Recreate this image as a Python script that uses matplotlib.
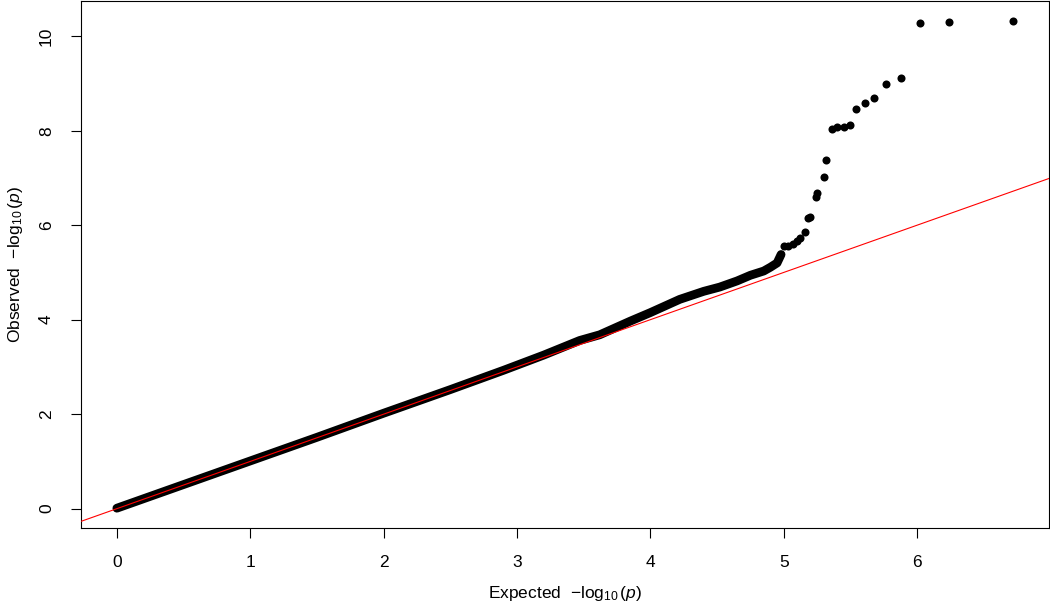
import matplotlib
matplotlib.use("Agg")
import matplotlib.pyplot as plt
import numpy as np

plt.rcParams["font.family"] = ["Liberation Sans", "DejaVu Sans"]
plt.rcParams["mathtext.fontset"] = "custom"
plt.rcParams["mathtext.rm"] = "Liberation Sans"
plt.rcParams["mathtext.it"] = "Liberation Sans:italic"

# Dense part of the QQ curve
dense_exp = [0.0, 0.5, 1.0, 1.5, 2.0, 2.5, 2.9, 3.2, 3.47, 3.62, 3.85, 4.0,
             4.22, 4.4, 4.52, 4.65, 4.75, 4.85, 4.9, 4.95, 4.98]
dense_obs = [0.01, 0.51, 1.01, 1.51, 2.02, 2.52, 2.93, 3.25, 3.56, 3.68, 3.97, 4.15,
             4.43, 4.6, 4.69, 4.82, 4.94, 5.03, 5.11, 5.2, 5.38]

# Individual points in the upper tail
tail_exp = [5.00, 5.03, 5.07, 5.10, 5.12, 5.16, 5.18, 5.20, 5.24, 5.25, 5.30, 5.32,
            5.36, 5.40, 5.45, 5.50, 5.54, 5.61, 5.68, 5.77, 5.88, 6.02, 6.24, 6.72]
tail_obs = [5.55, 5.56, 5.61, 5.66, 5.73, 5.85, 6.16, 6.18, 6.59, 6.68, 7.03, 7.38,
            8.04, 8.07, 8.07, 8.13, 8.46, 8.58, 8.69, 8.98, 9.12, 10.27, 10.31, 10.33]

x_ticks = [0, 1, 2, 3, 4, 5, 6]
y_ticks = [0, 2, 4, 6, 8, 10]

fig = plt.figure(figsize=(10.5, 6.11), dpi=100)
ax = fig.add_axes([81 / 1050, 83.3 / 611, 968 / 1050, 526.6 / 611])

ax.plot(dense_exp, dense_obs, color="black", lw=6.3,
        solid_capstyle="round", solid_joinstyle="round", zorder=2)
ax.scatter(tail_exp, tail_obs, s=5.8 ** 2, color="black", linewidths=0, zorder=2)
ax.axline((0, 0), slope=1, color="red", lw=0.8, zorder=3)

all_x = dense_exp + tail_exp
all_y = dense_obs + tail_obs
xr = max(all_x) - min(all_x)
yr = max(all_y) - min(all_y)
ax.set_xlim(min(all_x) - 0.04 * xr, max(all_x) + 0.04 * xr)
ax.set_ylim(min(all_y) - 0.04 * yr, max(all_y) + 0.04 * yr)

ax.set_xticks(x_ticks)
ax.set_yticks(y_ticks)
ax.set_yticklabels([str(t) for t in y_ticks], rotation=90, va="center")
ax.tick_params(axis="both", direction="out", length=7.5, width=0.8,
               labelsize=12.5, colors="black")
ax.tick_params(axis="x", pad=12)
ax.tick_params(axis="y", pad=12)
for s in ax.spines.values():
    s.set_linewidth(0.8)

ax.set_xlabel(r"Expected  $-\log_{10}(p)$", fontsize=12.5, labelpad=10)
ax.set_ylabel(r"Observed  $-\log_{10}(p)$", fontsize=12.5, labelpad=10)

fig.savefig("out.png", dpi=100)
